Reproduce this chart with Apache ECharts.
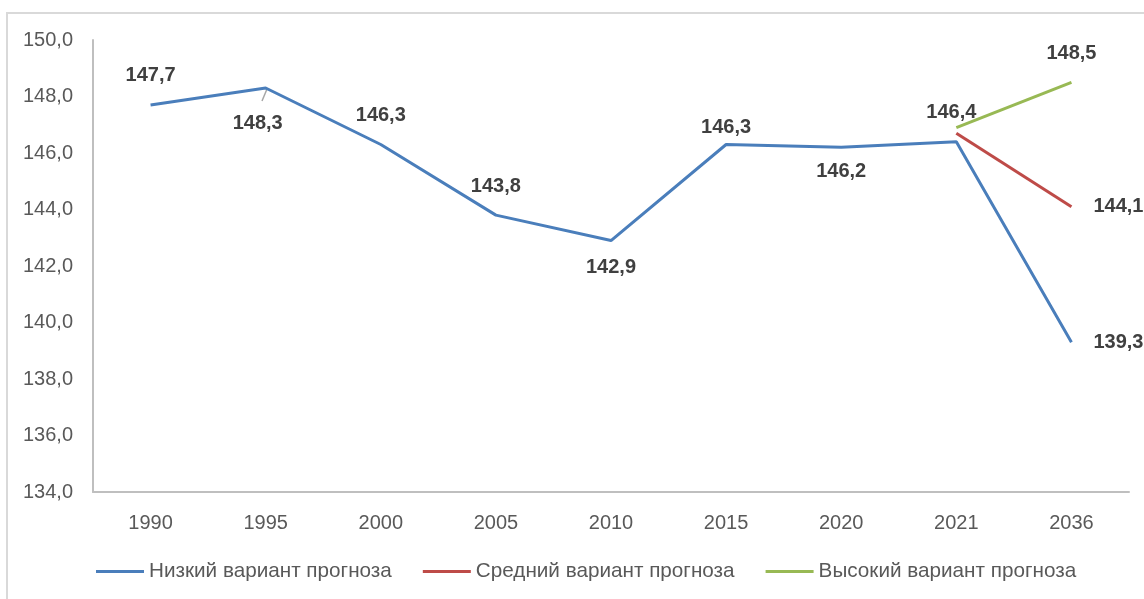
<!DOCTYPE html>
<html><head><meta charset="utf-8">
<script src="https://cdn.jsdelivr.net/npm/echarts@6/dist/echarts.min.js"></script>
<style>html,body{margin:0;padding:0;background:#fff}#c{width:1144px;height:599px}</style>
</head><body><div id="c"></div>
<script>
const categories = ['1990','1995','2000','2005','2010','2015','2020','2021','2036'];
const lowValues = [147.7,148.3,146.3,143.8,142.9,146.3,146.2,146.4,139.3];
const midValues = [null,null,null,null,null,null,null,146.7,144.1];
const highValues = [null,null,null,null,null,null,null,146.9,148.5];
const seriesNames = ['Низкий вариант прогноза','Средний вариант прогноза','Высокий вариант прогноза'];
const yTicks = {min:134, max:150, step:2};

const fmt = v => v.toFixed(1).replace('.', ',');
const lblBase = {show:true, fontFamily:'Liberation Sans', fontWeight:'bold', fontSize:20, color:'#404040', formatter:p=>fmt(p.value)};
const lowPos = [
  {position:'top', distance:19},
  {position:'bottom', distance:25, offset:[-8,0]},
  {position:'top', distance:19},
  {position:'top', distance:19},
  {position:'bottom', distance:17},
  {position:'top', distance:7},
  {position:'bottom', distance:14},
  {position:'top', distance:19, offset:[-5,0]},
  {position:'right', distance:22}
];
const lowData = lowValues.map((v,i)=>({value:v, label:lowPos[i]}));
const midData = midValues.map((v,i)=> v==null? null : {value:v, label: i===8? {show:true, position:'right', distance:22} : {show:false}});
const highData = highValues.map((v,i)=> v==null? null : {value:v, label: i===8? {show:true, position:'top', distance:19} : {show:false}});

const chart = echarts.init(document.getElementById('c'), null, {renderer:'canvas'});
const mk = (name, data, color) => ({
  name, type:'line', data, connectNulls:false, showSymbol:true, symbol:'circle', symbolSize:0,
  lineStyle:{color, width:3}, itemStyle:{color}, label:lblBase, emphasis:{disabled:true}
});
chart.setOption({
  animation:false,
  textStyle:{fontFamily:'Liberation Sans'},
  graphic:[
    {type:'rect', shape:{x:7,y:13,width:1160,height:600}, style:{fill:'none', stroke:'#d9d9d9', lineWidth:2}, z:-1},
    {type:'line', shape:{x1:267, y1:89, x2:262, y2:101}, style:{stroke:'#a6a6a6', lineWidth:1.5}}
  ],
  grid:{left:93, right:15, top:40, bottom:107},
  legend:{
    bottom:12, left:91, itemWidth:48, itemHeight:3, itemGap:31,
    icon:'rect',
    textStyle:{fontFamily:'Liberation Sans', fontSize:20.7, color:'#595959'},
    data:seriesNames
  },
  xAxis:{
    type:'category', data:categories, boundaryGap:true,
    axisLine:{show:true, lineStyle:{color:'#bfbfbf', width:2}},
    axisTick:{show:false},
    axisLabel:{fontSize:20, color:'#595959', margin:21, fontFamily:'Liberation Sans'}
  },
  yAxis:{
    type:'value', min:yTicks.min, max:yTicks.max, interval:yTicks.step,
    axisLine:{show:true, lineStyle:{color:'#bfbfbf', width:2}},
    axisTick:{show:false},
    splitLine:{show:false},
    axisLabel:{fontSize:20, color:'#595959', margin:20, fontFamily:'Liberation Sans', formatter:v=>fmt(v)}
  },
  series:[
    mk(seriesNames[0], lowData, '#4a7ebb'),
    mk(seriesNames[1], midData, '#be4b48'),
    mk(seriesNames[2], highData, '#98b954')
  ]
});
</script></body></html>
